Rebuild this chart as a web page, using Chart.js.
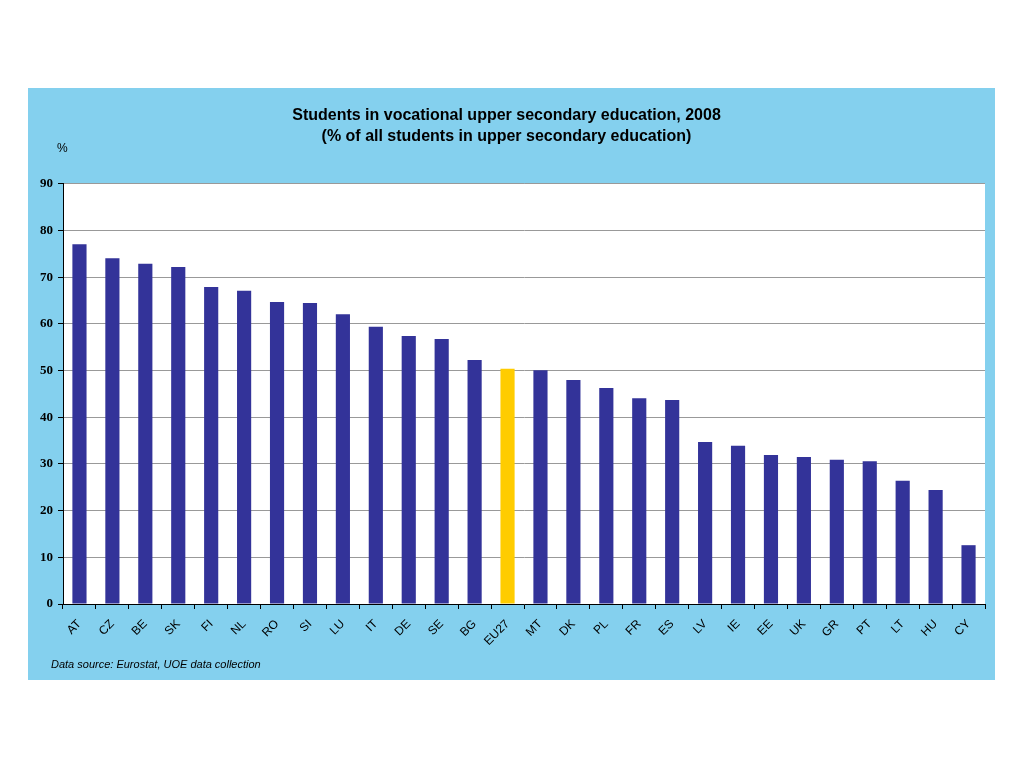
<!DOCTYPE html>
<html>
<head>
<meta charset="utf-8">
<script src="https://cdn.jsdelivr.net/npm/chart.js@4/dist/chart.umd.min.js"></script>
<style>
  body { margin: 0; background: #ffffff; }
  #box {
    position: absolute; left: 28px; top: 88px;
    width: 967px; height: 592px; background: #84d0ee;
  }
  #pct {
    position: absolute; left: 29px; top: 53px;
    font: 12px "Liberation Sans", Arial, sans-serif; color: #000;
  }
  #source {
    position: absolute; left: 23px; top: 570px;
    font: italic 11px "Liberation Sans", Arial, sans-serif; color: #000;
  }
</style>
</head>
<body>
<div id="box">
  <canvas id="myGraph"></canvas>
  <div id="pct">%</div>
  <div id="source">Data source: Eurostat, UOE data collection</div>
</div>
<script>
"use strict";

// countries sorted by share, EU27 average highlighted
const countries = ["AT", "CZ", "BE", "SK", "FI", "NL", "RO", "SI", "LU", "IT", "DE", "SE", "BG", "EU27",
    "MT", "DK", "PL", "FR", "ES", "LV", "IE", "EE", "UK", "GR", "PT", "LT", "HU", "CY"];
const shares = [77.1, 74.1, 72.9, 72.2, 67.9, 67.1, 64.7, 64.5, 62.1, 59.4, 57.4, 56.8, 52.3, 50.4,
    50.1, 48.0, 46.3, 44.1, 43.7, 34.7, 33.9, 31.9, 31.5, 30.9, 30.6, 26.4, 24.4, 12.6];
const yTicks = [0, 10, 20, 30, 40, 50, 60, 70, 80, 90];

const barColors = countries.map((c) => (c === "EU27" ? "#ffcc00" : "#333399"));

// white plot area on the blue panel
const plotBackground = {
    id: "plotBackground",
    beforeDraw(chart) {
        const { ctx, chartArea } = chart;
        ctx.save();
        ctx.fillStyle = "#ffffff";
        ctx.fillRect(chartArea.left, chartArea.top, chartArea.right - chartArea.left, chartArea.bottom - chartArea.top);
        ctx.restore();
    },
};

const data = {
    labels: countries,
    datasets: [
        {
            data: shares,
            backgroundColor: barColors,
            borderWidth: 0,
            barPercentage: 0.43,
            categoryPercentage: 1,
        },
    ],
};

const config = {
    type: "bar",
    data: data,
    plugins: [plotBackground],
    options: {
        responsive: true,
        maintainAspectRatio: false,
        animation: false,
        layout: { padding: { left: 0, right: 10, top: 0, bottom: 0 } },
        plugins: {
            legend: { display: false },
            tooltip: { enabled: false },
            title: {
                display: true,
                text: ["Students in vocational upper secondary education, 2008",
                    "(% of all students in upper secondary education)"],
                color: "#000",
                font: { family: "'Liberation Sans', Arial, sans-serif", size: 16, weight: "bold", lineHeight: 1.31 },
                padding: { top: 17, bottom: 37 },
            },
        },
        scales: {
            x: {
                offset: true,
                grid: {
                    display: true,
                    drawOnChartArea: false,
                    drawTicks: true,
                    tickLength: 5,
                    tickColor: "#000",
                    offset: true,
                },
                border: { display: true, color: "#000", width: 1 },
                ticks: {
                    color: "#000",
                    minRotation: 45,
                    maxRotation: 45,
                    autoSkip: false,
                    padding: 8,
                    font: { family: "'Liberation Sans', Arial, sans-serif", size: 12 },
                },
                afterFit: (scale) => { scale.height = 76; },
            },
            y: {
                min: 0,
                max: 90,
                afterBuildTicks: (scale) => { scale.ticks = yTicks.map((v) => ({ value: v })); },
                grid: {
                    color: "#999999",
                    lineWidth: 1,
                    drawTicks: true,
                    tickLength: 5,
                    tickColor: "#000",
                },
                border: { display: true, color: "#000", width: 1 },
                ticks: {
                    color: "#000",
                    padding: 5,
                    font: { family: "'Liberation Serif', 'Times New Roman', serif", size: 13, weight: "bold" },
                },
                afterFit: (scale) => { scale.width = 35; },
            },
        },
    },
};

const canvasChart = document.getElementById("myGraph");
new Chart(canvasChart, config);
</script>
</body>
</html>
